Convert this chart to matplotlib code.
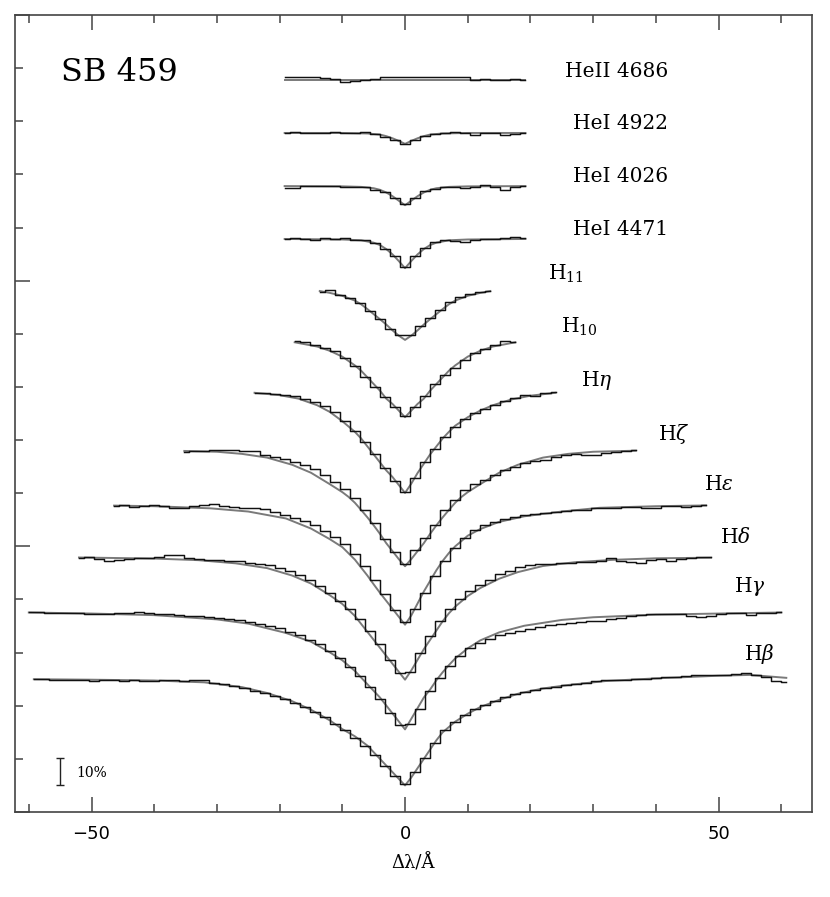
import numpy as np
import matplotlib.pyplot as plt
from matplotlib.ticker import MultipleLocator

plt.rcParams['mathtext.fontset'] = 'dejavuserif'

# line names (plot labels) from top to bottom
labels = ["HeII 4686", "HeI 4922", "HeI 4026", "HeI 4471",
          r"H$_{11}$", r"H$_{10}$", r"H$\eta$", r"H$\zeta$",
          r"H$\epsilon$", r"H$\delta$", r"H$\gamma$", r"H$\beta$"]

# continuum level of each spectrum (shifted)
cont = [2.755, 2.556, 2.356, 2.157, 1.961, 1.776, 1.581, 1.362,
        1.155, 0.958, 0.751, 0.500]

# observed spectra: first bin centre (A), bin width 1.6 A, depth in % of continuum
bin_w = 1.6
obs_start = [-19.2, -19.2, -19.2, -19.2, -13.6, -17.6, -24.0, -35.2,
             -46.4, -52.0, -60.0, -59.2]

heii4686_obs = [-1.2, -1.2, -1.2, -1.0, -0.9, -0.5, 0.9, 0.2, 0, -0.3, -1.2, -1.2, -1.2,
                -1.3, -1.3, -1.2, -1.2, -1.2, -1.1, 0, -0.4, 0, 0, -0.4, 0]
hei4922_obs = [0.2, -0.2, 0, 0, 0.2, -0.2, 0, 0, -0.4, 0.4, 1.6, 2.6, 4.0,
               2.5, 1.0, 0.3, 0, -0.2, 0.1, 0.6, 0.2, 0, 0.6, 0.5, 0]
hei4026_obs = [0.8, 0.6, 0, 0, 0, 0, 0.5, 0.3, 0.2, 1.4, 2.4, 4.5, 6.6,
               4.4, 2.0, 1.0, 0.2, 0.2, 0.9, 0.2, -0.3, 0.2, 1.4, 0.3, 0]
hei4471_obs = [0, -0.5, 0, 0.3, -0.5, 0, -0.3, 0.4, 0.3, 1.5, 3.8, 6.4, 10.4,
               6.5, 3.5, 1.2, 0.3, 0.9, 1.0, 0.3, 0, 0.2, -0.5, -0.6, -0.5]
h11_obs = [0.4, -0.4, 1.5, 2.6, 4.5, 7.5, 10.5, 14.2, 16.6,
           16.4, 13.0, 10.0, 7.2, 4.3, 2.3, 1.2, 0.4, 0]
h10_obs = [0.3, 0.6, 1.7, 3.0, 4.2, 6.8, 9.8, 13.8, 17.5, 21.5, 25, 28.6,
           25.3, 21, 16.5, 13.2, 10.5, 7.5, 4.8, 3.5, 1.8, 0.2, 0.8]
heta_obs = [0.2, 0.5, 0.8, 1.0, 1.5, 2.6, 3.6, 5.2, 7.5, 11, 14.5, 19, 23.5, 28.5, 33.5, 37.5,
            32.5, 26.5, 21.5, 17, 13, 10, 8.0, 6.3, 4.8, 3.5, 2.2, 1.3, 1.5, 0.5, 0]
hzeta_obs = [0.8, 0.3, 0.2, 0, -0.2, 0, 0.2, 0.5, 1.8, 2.5, 3.3, 4.5, 5.6, 7.2, 9.5, 11.8,
             14.5, 18, 22.4, 27.5, 33.5, 38.4, 43,
             37.6, 33, 28.3, 22.6, 18.6, 15, 12.6, 11.3, 9.5, 7.3, 6.2, 5.0, 4.0, 3.6,
             2.7, 2.0, 1.6, 2.0, 1.8, 1.0, 0.6, 0.5, 0]
heps_obs = [0.2, 0, 0.6, 0.3, 0, 0.4, 1.2, 1.2, 0.3, -0.2, -0.3, 0.4, 0.6, 1.0, 1.2,
            1.6, 2.6, 3.6, 4.8, 6.0, 7.6, 9.6, 12.0, 14.8, 18.2, 22.8, 28, 33.5, 39.5, 43.8,
            39, 33, 26.5, 21, 16, 12.3, 9.4, 7.6, 6.3, 5.3, 4.5, 3.8, 3.3, 2.8, 2.5,
            2.1, 1.8, 1.8, 1.2, 1.0, 1.2, 0.8, 0.6, 1.0, 1.0, 0.4, 0.3, 0.6, 0.3, 0]
hdelta_obs = [0.2, 0, 0.4, 1.3, 1.0, 0.4, 0.2, 0.3, 0, -0.9, -0.9, 0.2, 0.6, 0.8, 1.0,
              1.2, 1.5, 2.0, 2.4, 3.0, 3.8, 5.0, 6.6, 8.4, 10.6, 13.2, 16.2, 19.5, 23, 27.5,
              32.5, 38.5, 43.5,
              43, 36, 29.5, 23.8, 19.3, 15.5, 12.7, 10.3, 8.3, 6.3, 5.0, 3.6, 3.0, 2.6, 2.4,
              2.2, 2.0, 1.8, 1.6, 1.5, 0.1, 1.5, 1.8, 2.0, 0.8, 0.6, 1.4, 0.5, 0.2, 0, -0.2]
hgamma_obs = [0, 0, 0.2, 0.2, 0.3, 0.2, 0.4, 0.4, 0.5, 0.3, 0.1, -0.2, 0.3, 0.6, 0.7,
              1.0, 1.2, 1.4, 1.6, 2.0, 2.4, 2.8, 3.5, 4.2, 5.0, 6.0, 7.3, 8.6, 10.2, 12,
              14.5, 17.3, 20.5, 24, 28, 32.5, 38, 42.5,
              42, 36.5, 29.5, 24.5, 20, 16.5, 13.5, 11.5, 9.8, 8.6, 7.6, 6.8, 6.1, 5.4, 4.8,
              4.3, 3.9, 3.6, 3.3, 3.2, 2.3, 2.0, 1.5, 1.0, 0.6, 0.6, 0.5, 0.6, 1.2, 1.8,
              1.2, 0.4, 0.2, 0.2, 0.9, 0.3, 0.1, 0]
hbeta_obs = [0, 0, 0.2, 0.5, 0.3, 0.3, 0.6, 0.2, 0.4, 0.8, 0.4, 0.6, 0.6, 0.5, 0.5,
             0.6, 0.5, 0.3, 1.5, 2.0, 2.6, 3.3, 4.3, 5.2, 6.2, 7.4, 8.8, 10.5, 12.3, 14.3,
             16.8, 19.3, 22, 25, 28.5, 32.5, 36.5, 39.5,
             35, 29.5, 24, 19.3, 16, 13.3, 11.2, 9.6, 8.2, 6.9, 5.7, 4.8, 4.0, 3.4, 2.8,
             2.2, 1.8, 1.3, 0.8, 0.5, 0.3, 0.4, -0.2, -0.2, -0.5, -1.0, -0.8, -1.2, -1.4, -1.4,
             -1.6, -1.7, -1.8, -2.2, -1.5, -0.8, 0.8, 1.0]

observed = [heii4686_obs, hei4922_obs, hei4026_obs, hei4471_obs, h11_obs, h10_obs,
            heta_obs, hzeta_obs, heps_obs, hdelta_obs, hgamma_obs, hbeta_obs]

# model profiles: |dlambda| grid, depth (%) on the blue (left) and red (right) side
heii4686_mx = [0, 19.2]
heii4686_ml = [0, 0]
heii4686_mr = heii4686_ml
hei4922_mx = [0, 1, 2, 3, 4, 6, 10, 19.2]
hei4922_ml = [4.1, 3.0, 2.0, 1.2, 0.6, 0.2, 0, 0]
hei4922_mr = hei4922_ml
hei4026_mx = [0, 1, 2, 3, 4, 5, 7, 10, 19.2]
hei4026_ml = [7.2, 5.5, 3.8, 2.4, 1.4, 0.8, 0.3, 0.1, 0]
hei4026_mr = hei4026_ml
hei4471_mx = [0, 1, 2, 3, 4, 5, 7, 10, 19.2]
hei4471_ml = [11, 8.3, 5.8, 3.8, 2.3, 1.4, 0.5, 0.2, 0]
hei4471_mr = hei4471_ml
h11_mx = [0, 1, 2, 3, 4, 5, 6, 7, 8, 10, 12, 13.6]
h11_ml = [18.4, 16.8, 14.8, 12.6, 10.6, 8.7, 6.8, 5.0, 3.6, 1.8, 0.7, 0]
h11_mr = h11_ml
h10_mx = [0, 1, 2, 3, 4, 5, 6, 7, 8, 10, 12, 14, 17.6]
h10_ml = [29, 26.5, 24, 22, 19, 16.5, 14, 11.5, 9.5, 6.2, 4.0, 2.4, 0.8]
h10_mr = h10_ml
heta_mx = [0, 1, 2, 3, 4, 5, 6, 7, 8, 10, 12, 14, 17, 20, 24]
heta_ml = [38, 35, 32, 29.5, 26.5, 23.5, 20.5, 17.5, 15, 11, 7.5, 5, 2.5, 1.2, 0.3]
heta_mr = [38, 34.5, 30.5, 27, 23.5, 20.5, 17.5, 15, 12.7, 9.5, 7, 5, 2.8, 1.4, 0.3]
hzeta_mx = [0, 1, 2, 3, 4, 5, 6, 7, 8, 9, 10, 12, 15, 18, 22, 26, 30, 36.8]
hzeta_ml = [43.7, 41, 38, 35, 31.5, 28.3, 25.3, 22.5, 19.8, 17.6, 15.8, 12.8, 8.5, 5.5,
            2.8, 1.4, 0.6, 0.2]
hzeta_mr = hzeta_ml
heps_mx = [0, 1, 2, 3, 4, 5, 6, 7, 8, 10, 12, 15, 19, 25, 31, 40, 48]
heps_ml = [45, 42, 39, 36, 33, 29.8, 26.5, 23.5, 20.5, 15.8, 12.8, 8.8, 5.0, 2.4, 1.2, 0.4, 0.1]
heps_mr = [45, 41.5, 37, 32.5, 28.5, 24.5, 21, 18, 15.5, 11.5, 9, 6.3, 4.2, 2.4, 1.0, 0.4, 0.1]
hdelta_mx = [0, 1, 2, 3, 4, 5, 6, 7, 8, 10, 12, 15, 18, 22, 27, 33, 40, 52]
hdelta_ml = [46, 43, 40, 37, 34, 31, 28, 25, 22, 17.5, 14.2, 9.8, 6.8, 4.0, 2.2, 1.0, 0.4, 0]
hdelta_mr = [46, 42.5, 38.5, 34.5, 31, 27.5, 24, 21, 18.5, 14.5, 11.5, 8, 5.5, 3.2, 1.8, 0.9,
             0.3, 0]
hgamma_mx = [0, 1, 2, 3, 4, 5, 6, 7, 8, 10, 12, 15, 19, 25, 30, 40, 50, 60]
hgamma_ml = [44, 41, 38, 35, 32, 29.5, 27, 24.5, 22, 18, 15, 11, 7.7, 4.2, 2.6, 1.0, 0.4, 0]
hgamma_mr = [44, 40, 36, 32, 29, 25.5, 22.5, 19.8, 17.3, 13.5, 10.5, 7.5, 5.0, 2.8, 1.8, 0.8,
             0.4, 0]
hbeta_mx = [0, 1, 2, 3, 4, 5, 6, 8, 10, 12, 15, 18, 22, 26, 32, 40, 50, 55, 60.8]
hbeta_ml = [40, 37.5, 35, 32.5, 30, 27.5, 25, 21.5, 18.8, 15.5, 11.5, 8.3, 5.2, 3.0, 1.2, 0.5,
            0.2, 0.1, 0]
hbeta_mr = [40, 37, 33.5, 30, 26.5, 23, 20, 16, 13, 10.5, 7.8, 5.5, 3.5, 2.2, 0.7, -0.3,
            -1.3, -1.6, -0.5]

model_x = [heii4686_mx, hei4922_mx, hei4026_mx, hei4471_mx, h11_mx, h10_mx,
           heta_mx, hzeta_mx, heps_mx, hdelta_mx, hgamma_mx, hbeta_mx]
model_l = [heii4686_ml, hei4922_ml, hei4026_ml, hei4471_ml, h11_ml, h10_ml,
           heta_ml, hzeta_ml, heps_ml, hdelta_ml, hgamma_ml, hbeta_ml]
model_r = [heii4686_mr, hei4922_mr, hei4026_mr, hei4471_mr, h11_mr, h10_mr,
           heta_mr, hzeta_mr, heps_mr, hdelta_mr, hgamma_mr, hbeta_mr]

# label anchor (dlambda, y) and alignment
label_x = [41.9, 41.9, 41.9, 41.9, 22.8, 24.9, 28.0, 40.4, 47.6, 50.3, 52.4, 54.0]
label_y = [2.766, 2.571, 2.371, 2.172, 2.002, 1.803, 1.603, 1.400, 1.212, 1.012, 0.828, 0.572]
label_ha = ['right'] * 4 + ['left'] * 8

fig = plt.figure(figsize=(8.3, 8.97), dpi=100)
ax = fig.add_axes([15 / 830, 85 / 897, 797 / 830, 797 / 897])

for i in range(len(labels)):
    obs = np.array(observed[i])
    x_obs = obs_start[i] + bin_w * np.arange(len(obs))
    lo, hi = x_obs[0], x_obs[-1]

    mx = np.array(model_x[i])
    xs = np.concatenate([-mx[::-1], mx[1:]])
    ds = np.concatenate([np.array(model_l[i])[::-1], np.array(model_r[i])[1:]])
    keep = (xs > lo) & (xs < hi)
    xm = np.concatenate([[lo], xs[keep], [hi]])
    dm = np.concatenate([[np.interp(lo, xs, ds)], ds[keep], [np.interp(hi, xs, ds)]])

    ax.plot(xm, cont[i] - dm / 100, color='#7a7a7a', lw=1.4, zorder=2)
    ax.plot(x_obs, cont[i] - obs / 100, drawstyle='steps-mid', color='#111111', lw=1.05, zorder=3)

    ax.text(label_x[i], label_y[i], labels[i], ha=label_ha[i], va='baseline',
            fontsize=14.5, family='DejaVu Serif')

ax.text(-54.8, 2.751, "SB 459", fontsize=23, family='DejaVu Serif', va='baseline')

# 10% scale bar
ax.errorbar([-55.0], [0.1525], yerr=[[0.05], [0.05]], color='#222222', lw=1.0,
            capsize=3, capthick=1.0)
ax.text(-52.4, 0.147, "10%", fontsize=10, family='DejaVu Serif', va='center')

ax.set_xlim(-62.2, 64.9)
ax.set_ylim(0, 3)
ax.set_xticks([-50, 0, 50])
ax.xaxis.set_minor_locator(MultipleLocator(10))
ax.set_yticks([0, 1, 2, 3])
ax.yaxis.set_minor_locator(MultipleLocator(0.2))
ax.tick_params(which='both', direction='in', top=True, right=False, colors='#444444',
               labelcolor='black', width=1.1)
ax.tick_params(which='major', length=11, labelsize=13, pad=9)
ax.tick_params(which='minor', length=5.5)
ax.tick_params(axis='y', labelleft=False)
for s in ax.spines.values():
    s.set_color('#444444')
    s.set_linewidth(1.2)

fig.text(413 / 830, 1 - 863 / 897, "Δλ/Å", ha='center', va='center', fontsize=13,
         family='DejaVu Serif')

fig.savefig('out.png', dpi=100)
